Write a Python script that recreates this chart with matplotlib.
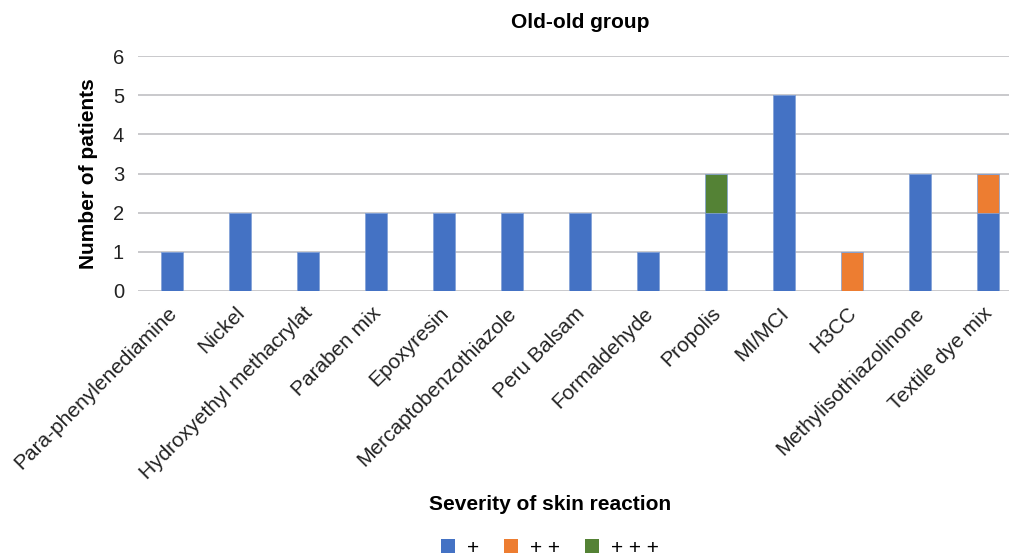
import matplotlib
matplotlib.use("Agg")
import matplotlib.pyplot as plt
import matplotlib.transforms as mtransforms
from matplotlib.patches import Patch

categories = ["Para-phenylenediamine", "Nickel", "Hydroxyethyl methacrylat", "Paraben mix",
              "Epoxyresin", "Mercaptobenzothiazole", "Peru Balsam", "Formaldehyde",
              "Propolis", "MI/MCI", "H3CC", "Methylisothiazolinone", "Textile dye mix"]
plus1 = [1, 2, 1, 2, 2, 2, 2, 1, 2, 5, 0, 3, 2]
plus2 = [0, 0, 0, 0, 0, 0, 0, 0, 0, 0, 1, 0, 1]
plus3 = [0, 0, 0, 0, 0, 0, 0, 0, 1, 0, 0, 0, 0]
series_labels = ["+", "+ +", "+ + +"]
colors = ["#4472C4", "#ED7D31", "#548235"]
yticks = [0, 1, 2, 3, 4, 5, 6]

plt.rcParams['font.family'] = ['Liberation Sans', 'DejaVu Sans']

fig = plt.figure(figsize=(10.09, 5.56), dpi=100)
ax = fig.add_axes([138/1009, (556-291)/556, (1022-138)/1009, (291-56)/556])

x = list(range(len(categories)))
bottom = [0]*len(categories)
for vals, col in zip([plus1, plus2, plus3], colors):
    ax.bar(x, vals, width=0.31, bottom=bottom, color=col, edgecolor="#7F9FD6",
           linewidth=0.5, zorder=3)
    bottom = [b+v for b, v in zip(bottom, vals)]

ax.set_xlim(-0.5, len(categories)-0.5)
ax.set_ylim(0, 6)
ax.set_yticks(yticks)
ax.set_yticklabels([str(t) for t in yticks], fontsize=14.5, color="#222222")
ax.yaxis.grid(True, color="#C0C0C4", linewidth=1.2, zorder=0)
for s in ["top", "right", "left", "bottom"]:
    ax.spines[s].set_visible(False)
ax.tick_params(axis="both", length=0)
ax.tick_params(axis="y", pad=10)
ax.set_xticks(x)
ax.set_xticklabels(categories, rotation=45, ha="right", rotation_mode="anchor",
                   fontsize=15, color="#222222")
ax.tick_params(axis="x", pad=9)
offset = mtransforms.ScaledTranslation(-5/100, 0, fig.dpi_scale_trans)
for lbl in ax.get_xticklabels():
    lbl.set_transform(lbl.get_transform() + offset)

fig.text(580/1009, (556-22)/556, "Old-old group", ha="center", va="center", fontsize=15, fontweight="bold")
fig.text(88/1009, (556-174)/556, "Number of patients", ha="center", va="center",
         rotation=90, fontsize=15, fontweight="bold")
fig.text(550/1009, (556-505)/556, "Severity of skin reaction", ha="center", va="center",
         fontsize=15, fontweight="bold")

handles = [Patch(facecolor=c, edgecolor="none") for c in colors]
fig.legend(handles, series_labels, loc="center", bbox_to_anchor=(550/1009, (556-548)/556),
           ncol=3, frameon=False, fontsize=15, handlelength=0.67, handleheight=0.67,
           columnspacing=1.2, handletextpad=0.58, borderpad=0, borderaxespad=0)

fig.savefig("out.png", dpi=100)
